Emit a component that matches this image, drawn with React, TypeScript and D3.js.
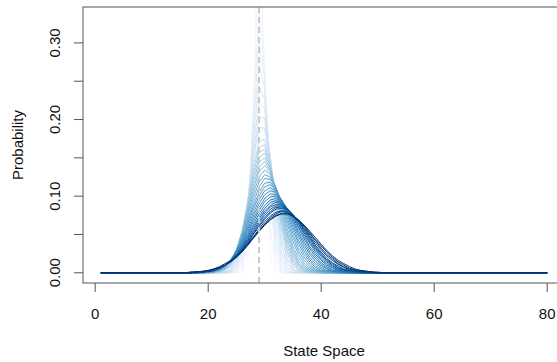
import * as d3 from 'd3';

// state space and axis settings
const stateMin = 1;
const stateMax = 80;
const startState = 29;
const xTicks = [0, 20, 40, 60, 80];
const yTicks = [0, 0.05, 0.1, 0.15, 0.2, 0.25, 0.3];
const yLabelTicks = [0, 0.1, 0.2, 0.3];
const yLimit = [0, 0.3335];

// first state with non-zero probability for each step
const curveStart = [
  27, 26, 25, 25, 25, 24, 24, 23, 23, 22, 22, 22, 22, 21, 21, 21, 21, 20,
  20, 20, 20, 20, 20, 19, 19, 19, 19, 19, 19, 18, 18, 18, 18, 18, 17, 17,
];

// probabilities from curveStart onwards (zero elsewhere), one row per step
const curveProbs = [
  [0.013, 0.200, 0.531, 0.238, 0.018],
  [0.002, 0.037, 0.215, 0.418, 0.268, 0.057, 0.004],
  [0.001, 0.008, 0.060, 0.210, 0.344, 0.264, 0.095, 0.016, 0.001],
  [0.002, 0.015, 0.073, 0.200, 0.303, 0.254, 0.118, 0.030, 0.004],
  [0.004, 0.022, 0.083, 0.190, 0.271, 0.241, 0.133, 0.045, 0.010, 0.001],
  [0.001, 0.007, 0.030, 0.089, 0.179, 0.245, 0.226, 0.141, 0.060, 0.017, 0.003],
  [0.002, 0.010, 0.034, 0.089, 0.166, 0.222, 0.215, 0.150, 0.075, 0.027, 0.007, 0.001],
  [0.001, 0.003, 0.014, 0.040, 0.092, 0.157, 0.204, 0.201, 0.151, 0.085, 0.037, 0.012, 0.003, 0.001],
  [0.001, 0.005, 0.018, 0.045, 0.092, 0.149, 0.189, 0.189, 0.149, 0.092, 0.045, 0.018, 0.005, 0.001],
  [0.001, 0.003, 0.008, 0.023, 0.051, 0.093, 0.140, 0.172, 0.174, 0.144, 0.098, 0.055, 0.025, 0.009, 0.003, 0.001],
  [0.001, 0.003, 0.010, 0.025, 0.053, 0.092, 0.135, 0.164, 0.167, 0.142, 0.101, 0.060, 0.029, 0.012, 0.004, 0.001],
  [0.001, 0.004, 0.011, 0.027, 0.054, 0.091, 0.130, 0.157, 0.161, 0.140, 0.103, 0.064, 0.034, 0.015, 0.006, 0.002],
  [0.002, 0.005, 0.013, 0.028, 0.054, 0.089, 0.125, 0.150, 0.156, 0.138, 0.105, 0.068, 0.038, 0.018, 0.008, 0.003, 0.001],
  [0.001, 0.002, 0.006, 0.014, 0.029, 0.054, 0.086, 0.120, 0.144, 0.150, 0.136, 0.107, 0.073, 0.043, 0.022, 0.010, 0.004, 0.001],
  [0.001, 0.002, 0.006, 0.015, 0.030, 0.053, 0.083, 0.114, 0.138, 0.145, 0.134, 0.108, 0.077, 0.048, 0.026, 0.012, 0.005, 0.002, 0.001],
  [0.001, 0.003, 0.007, 0.015, 0.030, 0.052, 0.080, 0.109, 0.132, 0.140, 0.132, 0.109, 0.080, 0.052, 0.030, 0.015, 0.007, 0.003, 0.001],
  [0.001, 0.003, 0.007, 0.016, 0.030, 0.051, 0.077, 0.103, 0.125, 0.134, 0.129, 0.111, 0.085, 0.058, 0.035, 0.019, 0.009, 0.004, 0.002, 0.001],
  [0.001, 0.001, 0.004, 0.008, 0.016, 0.030, 0.049, 0.073, 0.098, 0.118, 0.128, 0.125, 0.111, 0.088, 0.063, 0.041, 0.024, 0.012, 0.006, 0.003, 0.001],
  [0.001, 0.002, 0.004, 0.008, 0.016, 0.029, 0.047, 0.069, 0.092, 0.112, 0.123, 0.122, 0.111, 0.091, 0.068, 0.046, 0.028, 0.016, 0.008, 0.004, 0.002, 0.001],
  [0.001, 0.002, 0.004, 0.009, 0.017, 0.029, 0.045, 0.066, 0.087, 0.105, 0.117, 0.118, 0.110, 0.093, 0.072, 0.051, 0.033, 0.020, 0.011, 0.005, 0.002, 0.001],
  [0.001, 0.002, 0.005, 0.009, 0.017, 0.028, 0.044, 0.063, 0.083, 0.100, 0.112, 0.115, 0.109, 0.094, 0.076, 0.056, 0.038, 0.024, 0.014, 0.007, 0.003, 0.002, 0.001],
  [0.001, 0.002, 0.005, 0.009, 0.017, 0.028, 0.042, 0.060, 0.078, 0.095, 0.107, 0.111, 0.107, 0.095, 0.078, 0.060, 0.042, 0.028, 0.017, 0.009, 0.005, 0.002, 0.001],
  [0.001, 0.002, 0.005, 0.009, 0.016, 0.027, 0.040, 0.057, 0.074, 0.090, 0.102, 0.107, 0.105, 0.095, 0.081, 0.064, 0.047, 0.032, 0.020, 0.012, 0.007, 0.003, 0.002, 0.001],
  [0.001, 0.001, 0.003, 0.005, 0.010, 0.016, 0.026, 0.039, 0.054, 0.070, 0.085, 0.097, 0.103, 0.102, 0.095, 0.082, 0.067, 0.051, 0.036, 0.024, 0.015, 0.009, 0.005, 0.002, 0.001],
  [0.001, 0.001, 0.003, 0.005, 0.010, 0.016, 0.025, 0.037, 0.051, 0.067, 0.081, 0.093, 0.099, 0.100, 0.094, 0.084, 0.070, 0.054, 0.040, 0.027, 0.018, 0.011, 0.006, 0.003, 0.002, 0.001],
  [0.001, 0.002, 0.003, 0.006, 0.010, 0.016, 0.025, 0.036, 0.049, 0.063, 0.077, 0.088, 0.095, 0.097, 0.093, 0.084, 0.072, 0.058, 0.044, 0.031, 0.021, 0.013, 0.008, 0.004, 0.002, 0.001, 0.001],
  [0.001, 0.002, 0.003, 0.006, 0.010, 0.016, 0.024, 0.034, 0.047, 0.060, 0.073, 0.084, 0.092, 0.094, 0.092, 0.084, 0.073, 0.060, 0.047, 0.034, 0.024, 0.016, 0.010, 0.006, 0.003, 0.002, 0.001],
  [0.001, 0.002, 0.003, 0.006, 0.010, 0.016, 0.023, 0.033, 0.045, 0.058, 0.070, 0.081, 0.088, 0.092, 0.090, 0.084, 0.075, 0.063, 0.050, 0.038, 0.027, 0.018, 0.012, 0.007, 0.004, 0.002, 0.001, 0.001],
  [0.001, 0.002, 0.003, 0.006, 0.010, 0.015, 0.023, 0.032, 0.043, 0.055, 0.067, 0.078, 0.086, 0.089, 0.089, 0.084, 0.075, 0.064, 0.052, 0.040, 0.030, 0.021, 0.014, 0.009, 0.005, 0.003, 0.002, 0.001],
  [0.001, 0.001, 0.002, 0.003, 0.006, 0.010, 0.015, 0.022, 0.031, 0.042, 0.053, 0.065, 0.075, 0.083, 0.087, 0.087, 0.083, 0.076, 0.066, 0.054, 0.043, 0.032, 0.023, 0.016, 0.010, 0.006, 0.004, 0.002, 0.001, 0.001],
  [0.001, 0.001, 0.002, 0.004, 0.006, 0.010, 0.015, 0.022, 0.030, 0.040, 0.051, 0.062, 0.072, 0.080, 0.085, 0.086, 0.083, 0.076, 0.067, 0.056, 0.045, 0.034, 0.025, 0.017, 0.012, 0.007, 0.004, 0.003, 0.001, 0.001],
  [0.001, 0.001, 0.002, 0.004, 0.006, 0.010, 0.015, 0.021, 0.030, 0.039, 0.050, 0.060, 0.070, 0.078, 0.083, 0.084, 0.082, 0.076, 0.067, 0.057, 0.047, 0.036, 0.027, 0.019, 0.013, 0.009, 0.005, 0.003, 0.002, 0.001, 0.001],
  [0.001, 0.001, 0.002, 0.004, 0.006, 0.010, 0.015, 0.021, 0.028, 0.038, 0.047, 0.057, 0.067, 0.074, 0.079, 0.081, 0.080, 0.075, 0.068, 0.059, 0.049, 0.039, 0.030, 0.022, 0.016, 0.011, 0.007, 0.004, 0.003, 0.001, 0.001],
  [0.001, 0.001, 0.002, 0.004, 0.006, 0.010, 0.014, 0.020, 0.027, 0.036, 0.046, 0.055, 0.064, 0.072, 0.077, 0.080, 0.079, 0.075, 0.069, 0.061, 0.051, 0.042, 0.032, 0.024, 0.018, 0.012, 0.008, 0.005, 0.003, 0.002, 0.001, 0.001],
  [0.001, 0.001, 0.002, 0.003, 0.005, 0.007, 0.010, 0.015, 0.021, 0.028, 0.036, 0.045, 0.054, 0.063, 0.070, 0.075, 0.077, 0.077, 0.074, 0.068, 0.061, 0.052, 0.043, 0.035, 0.027, 0.020, 0.014, 0.010, 0.006, 0.004, 0.003, 0.002, 0.001],
  [0.001, 0.001, 0.002, 0.003, 0.005, 0.008, 0.012, 0.016, 0.022, 0.029, 0.037, 0.046, 0.054, 0.062, 0.069, 0.074, 0.077, 0.077, 0.074, 0.069, 0.062, 0.054, 0.046, 0.037, 0.029, 0.022, 0.016, 0.012, 0.008, 0.005, 0.003, 0.002, 0.001, 0.001],
];

const W = 557;
const H = 362;
// plot region like R's par("plt"); right edge runs past the window
const plot = { left: 83, right: 565, top: 7, bottom: 283 };
const font = '"Liberation Sans", Arial, Helvetica, sans-serif';
const fs = 15;

export default function App() {
  // R style 4% padding on both axes
  const xPad = (stateMax - stateMin) * 0.04;
  const yPad = (yLimit[1] - yLimit[0]) * 0.04;
  const x = d3.scaleLinear().domain([stateMin - xPad, stateMax + xPad]).range([plot.left, plot.right]);
  const y = d3.scaleLinear().domain([yLimit[0] - yPad, yLimit[1] + yPad]).range([plot.bottom, plot.top]);

  const states = d3.range(stateMin, stateMax + 1);
  const series = curveProbs.map((vals, i) =>
    states.map((s) => {
      const j = s - curveStart[i];
      return { s, p: j >= 0 && j < vals.length ? vals[j] : 0 };
    })
  );

  const color = (i: number) => d3.interpolateBlues(0.02 + 0.98 * (i / (series.length - 1)));
  const line = d3.line<{ s: number; p: number }>().x((d) => x(d.s)).y((d) => y(d.p));

  return (
    <svg width={W} height={H} style={{ position: 'absolute', left: 0, top: 0, background: '#fff' }}
      fontFamily={font}>
      <defs>
        <clipPath id="plotclip">
          <rect x={plot.left} y={plot.top} width={plot.right - plot.left} height={plot.bottom - plot.top} />
        </clipPath>
      </defs>

      <g clipPath="url(#plotclip)">
        {series.map((d, i) => (
          <path key={i} d={line(d) || ''} fill="none" stroke={color(i)} strokeWidth={1} />
        ))}
        <line x1={x(startState)} x2={x(startState)} y1={plot.top} y2={plot.bottom}
          stroke="#c8c8c8" strokeWidth={2} strokeDasharray="6,4" />
      </g>

      {/* box */}
      <rect x={plot.left} y={plot.top} width={plot.right - plot.left} height={plot.bottom - plot.top}
        fill="none" stroke="#555" strokeWidth={1} />

      {/* x axis */}
      {xTicks.map((t) => (
        <g key={t}>
          <line x1={x(t)} x2={x(t)} y1={plot.bottom} y2={plot.bottom + 9} stroke="#555" />
          <text x={x(t)} y={318.5} textAnchor="middle" fontSize={fs} fill="#111">{t}</text>
        </g>
      ))}
      <text x={(plot.left + plot.right) / 2} y={356} textAnchor="middle" fontSize={fs} fill="#111">State Space</text>

      {/* y axis */}
      {yTicks.map((t) => (
        <line key={t} x1={plot.left - 9} x2={plot.left} y1={y(t)} y2={y(t)} stroke="#555" />
      ))}
      {yLabelTicks.map((t) => (
        <text key={t} transform={`translate(59.5,${y(t)}) rotate(-90)`} textAnchor="middle" fontSize={fs} fill="#111">
          {d3.format('.2f')(t)}
        </text>
      ))}
      <text transform={`translate(22.5,${(plot.top + plot.bottom) / 2}) rotate(-90)`} textAnchor="middle"
        fontSize={fs} fill="#111">Probability</text>
    </svg>
  );
}
